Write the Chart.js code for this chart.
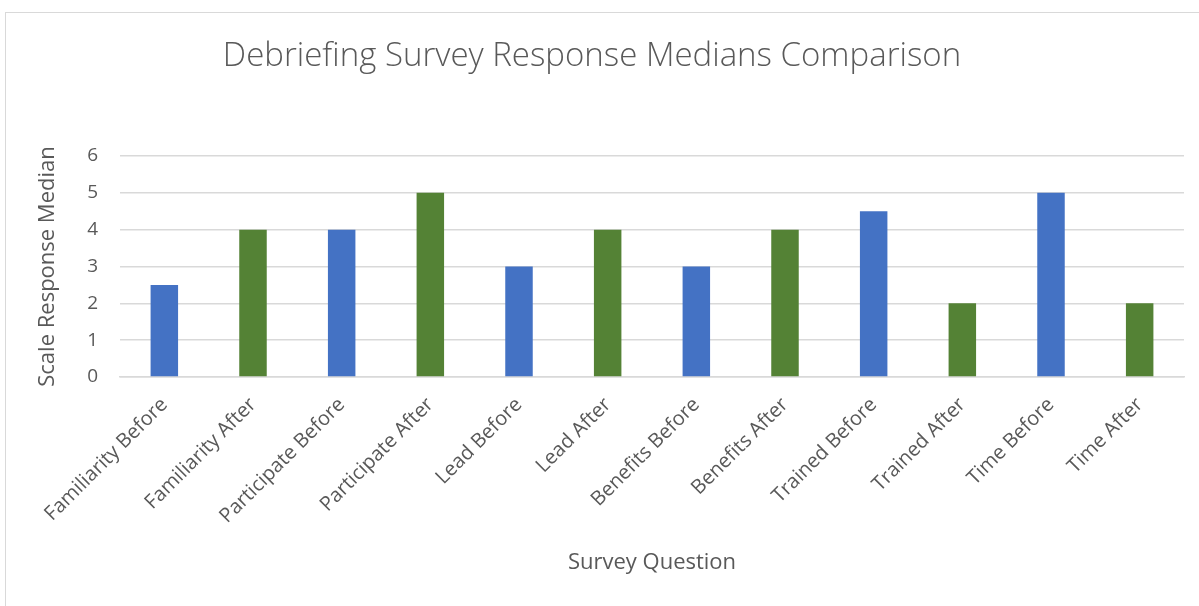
<!DOCTYPE html>
<html>
<head>
<meta charset="utf-8">
<script src="https://cdn.jsdelivr.net/npm/chart.js@4.4.0/dist/chart.umd.min.js"></script>
<style>
  html, body { margin: 0; padding: 0; background: #fff; overflow: hidden; }
  #frame {
    position: absolute; left: 5px; top: 12px; width: 1300px; height: 700px;
    border: 1px solid #d9d9d9; box-sizing: border-box;
  }
  #wrap { position: absolute; left: 0; top: 0; width: 1199px; height: 606px; }
</style>
</head>
<body>
<div id="frame"></div>
<div id="wrap"><canvas id="chart" width="1199" height="606"></canvas></div>
<script>
// data
const questions = [
  'Familiarity Before', 'Familiarity After', 'Participate Before', 'Participate After',
  'Lead Before', 'Lead After', 'Benefits Before', 'Benefits After',
  'Trained Before', 'Trained After', 'Time Before', 'Time After'
];
const medians = [2.5, 4, 4, 5, 3, 4, 3, 4, 4.5, 2, 5, 2];
const phases = ['before', 'after', 'before', 'after', 'before', 'after',
                'before', 'after', 'before', 'after', 'before', 'after'];
const yTicks = [0, 1, 2, 3, 4, 5, 6];

const BLUE = '#4472c4';
const GREEN = '#548235';
const TEXT = '#595959';
const GRID = '#d9d9d9';
const FONT = "'Open Sans', 'Noto Sans', sans-serif";

const ctx = document.getElementById('chart').getContext('2d');
new Chart(ctx, {
  type: 'bar',
  data: {
    labels: questions,
    datasets: [{
      label: 'Median',
      data: medians,
      backgroundColor: phases.map(p => p === 'before' ? BLUE : GREEN),
      borderWidth: 0,
      barPercentage: 0.31,
      categoryPercentage: 1
    }]
  },
  options: {
    responsive: false,
    animation: false,
    layout: { padding: { left: 0, right: 15, top: 0, bottom: 0 } },
    plugins: {
      legend: { display: false },
      tooltip: { enabled: false },
      title: {
        display: true,
        text: 'Debriefing Survey Response Medians Comparison',
        color: TEXT,
        font: { family: FONT, size: 33, weight: '300', lineHeight: 1.2 },
        padding: { top: 37, bottom: 79.4 }
      }
    },
    scales: {
      x: {
        grid: { display: false, drawTicks: false },
        border: { display: true, color: GRID, width: 1.5 },
        ticks: {
          color: TEXT,
          font: { family: FONT, size: 20 },
          maxRotation: 45,
          minRotation: 45,
          autoSkip: false,
          padding: 16
        },
        title: {
          display: true,
          text: 'Survey Question',
          color: TEXT,
          font: { family: FONT, size: 22, lineHeight: 1.2 },
          padding: { top: 0, bottom: 30 }
        },
        afterFit: s => { s.height = 229; }
      },
      y: {
        min: 0,
        max: 6,
        afterBuildTicks: s => { s.ticks = yTicks.map(v => ({ value: v })); },
        grid: { color: GRID, lineWidth: 1.5, drawTicks: false },
        border: { display: false },
        ticks: {
          color: TEXT,
          font: { family: FONT, size: 19 },
          padding: 22
        },
        title: {
          display: true,
          text: 'Scale Response Median',
          color: TEXT,
          font: { family: FONT, size: 22, lineHeight: 1.2 },
          padding: { top: 35, bottom: 0 }
        },
        afterFit: s => { s.width = 120; }
      }
    }
  }
});
</script>
</body>
</html>
